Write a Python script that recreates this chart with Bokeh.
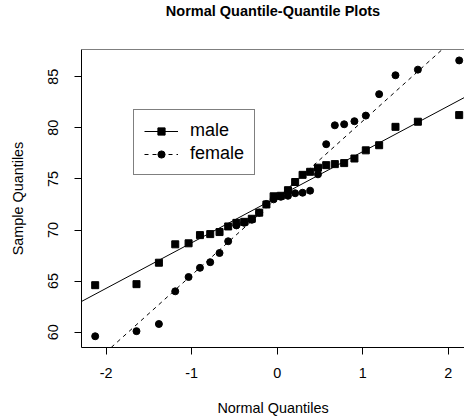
from bokeh.plotting import figure
from bokeh.models import Range1d, FixedTicker, Legend, LegendItem, Span, Title
from bokeh.embed import file_html
from bokeh.resources import INLINE
import numpy as np

# Theoretical normal quantiles (n = 30)
theoretical_q = [-2.128, -1.645, -1.383, -1.192, -1.036, -0.903, -0.783, -0.674,
                 -0.573, -0.477, -0.385, -0.297, -0.210, -0.126, -0.042, 0.042,
                 0.126, 0.210, 0.297, 0.385, 0.477, 0.573, 0.674, 0.783, 0.903,
                 1.036, 1.192, 1.383, 1.645, 2.128]

# Sorted sample values
male = [64.6, 64.7, 66.8, 68.6, 68.7, 69.5, 69.6, 69.8, 70.35, 70.7,
        70.8, 71.1, 71.7, 72.5, 73.3, 73.35, 73.9, 74.7, 75.4, 75.7,
        76.1, 76.35, 76.45, 76.55, 77.0, 77.8, 78.3, 80.1, 80.6, 81.25]
female = [59.6, 60.1, 60.8, 64.0, 65.4, 66.3, 66.85, 67.75, 68.9, 70.45,
          70.7, 71.0, 71.7, 72.55, 73.0, 73.25, 73.35, 73.6, 73.65, 73.85,
          75.45, 78.4, 80.25, 80.35, 80.65, 81.2, 83.3, 85.15, 85.7, 86.6]

x_ticks = [-2, -1, 0, 1, 2]
x_tick_labels = ["-2", "-1", "0", "1", "2"]
y_ticks = [60, 65, 70, 75, 80, 85]

X_START, X_END = -2.288, 2.19
Y_START, Y_END = 58.5, 87.67

FONT = "Liberation Sans"

p = figure(width=464, height=420,
           x_range=Range1d(X_START, X_END), y_range=Range1d(Y_START, Y_END),
           output_backend="svg", toolbar_location=None, title=None,
           min_border_left=81, min_border_right=0, min_border_top=49,
           min_border_bottom=73)

# spacer panel between frame and title
p.add_layout(Title(text=" ", text_font_size="1px", standoff=26), "above")
p.add_layout(Title(text="Normal Quantile-Quantile Plots", text_font=FONT,
                   text_font_size="14.5px", text_font_style="bold",
                   text_color="black", align="center", vertical_align="top",
                   standoff=0, offset=4), "above")

p.outline_line_color = None
p.grid.visible = False
p.background_fill_color = "white"
p.border_fill_color = "white"

for ax in (p.xaxis[0], p.yaxis[0]):
    ax.major_tick_out = 7
    ax.major_tick_in = 0
    ax.minor_tick_line_color = None
    ax.axis_line_color = "black"
    ax.major_tick_line_color = "black"
    ax.major_label_text_font = FONT
    ax.major_label_text_font_size = "14.4px"
    ax.major_label_text_color = "black"
    ax.axis_label_text_font = FONT
    ax.axis_label_text_font_size = "14.4px"
    ax.axis_label_text_font_style = "normal"
    ax.axis_label_text_color = "black"

p.xaxis.ticker = FixedTicker(ticks=x_ticks)
p.xaxis.major_label_overrides = dict(zip(x_ticks, x_tick_labels))
p.yaxis.ticker = FixedTicker(ticks=y_ticks)
p.xaxis.axis_label = "Normal Quantiles"
p.yaxis.axis_label = "Sample Quantiles"
p.xaxis.major_label_standoff = 13
p.xaxis.axis_label_standoff = 19
p.yaxis.major_label_orientation = "vertical"
p.yaxis.major_label_standoff = 16
p.yaxis.axis_label_standoff = 20

p.add_layout(Span(location=Y_END, dimension="width", line_color="black", line_width=1))

male_arr = np.array(male)
fem_arr = np.array(female)
m_mean, m_sd = male_arr.mean(), male_arr.std(ddof=1)
f_mean, f_sd = fem_arr.mean(), fem_arr.std(ddof=1)
line_x = np.array([X_START, X_END])

male_line = p.line(line_x, m_mean + m_sd * line_x, line_color="black", line_width=1)
fem_line = p.line(line_x, f_mean + f_sd * line_x, line_color="black", line_width=1,
                  line_dash="4 4")
male_pts = p.scatter(theoretical_q, male, marker="square", size=7,
                     fill_color="black", line_color="black")
fem_pts = p.scatter(theoretical_q, female, marker="circle", size=7,
                    fill_color="black", line_color="black")

legend = Legend(items=[LegendItem(label="male", renderers=[male_line, male_pts]),
                       LegendItem(label="female", renderers=[fem_line, fem_pts])],
                location=(52, 172), margin=0, padding=10, spacing=2,
                glyph_width=34, glyph_height=18, label_height=18,
                label_standoff=12, label_text_font=FONT,
                label_text_font_size="18px", label_text_color="black",
                border_line_color="black", border_line_width=1,
                background_fill_color="white", background_fill_alpha=1)
p.add_layout(legend)

open("out.html", "w").write(file_html(p, INLINE))
